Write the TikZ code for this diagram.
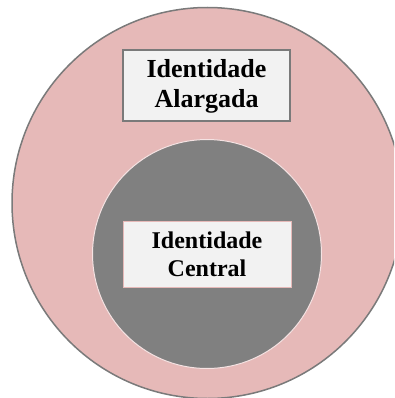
\documentclass[tikz,border=0pt]{standalone}
\usepackage{fontspec}
\setmainfont{Liberation Serif}
\usepackage{tikz}
\usepackage{xcolor}
\definecolor{rosa}{HTML}{E6B9B8}
\definecolor{cinza}{HTML}{808080}
\definecolor{contorno}{HTML}{7A7A7A}
\definecolor{caixa}{HTML}{F2F2F2}

\tikzset{
  camada/.style={circle, inner sep=0pt},
  rotulo/.style={rectangle, fill=caixa, align=center, inner sep=0pt, font=\bfseries}
}

\begin{document}
\begin{tikzpicture}[x=1pt,y=-1pt]
  \useasboundingbox (0,0) rectangle (394,398);
  \clip (0,0) rectangle (394,398);
  % circulos
  \node [camada, fill=rosa, draw=contorno, line width=1.5pt, minimum size=391pt] (alargada) at (207.5,203) {};
  \node [camada, fill=cinza, draw=rosa!40!white, line width=1pt, minimum size=229pt] (central) at (207,254) {};
  % caixas
  \node [rotulo, draw=contorno, line width=2pt, minimum width=167pt, minimum height=71pt,
         font=\bfseries\fontsize{26}{30}\selectfont] (txtalargada) at (206.5,86) {Identidade\\Alargada};
  \node [rotulo, draw=rosa, line width=1pt, minimum width=168pt, minimum height=66pt,
         font=\bfseries\fontsize{24}{28}\selectfont] (txtcentral) at (207,254) {Identidade\\Central};
\end{tikzpicture}
\end{document}
